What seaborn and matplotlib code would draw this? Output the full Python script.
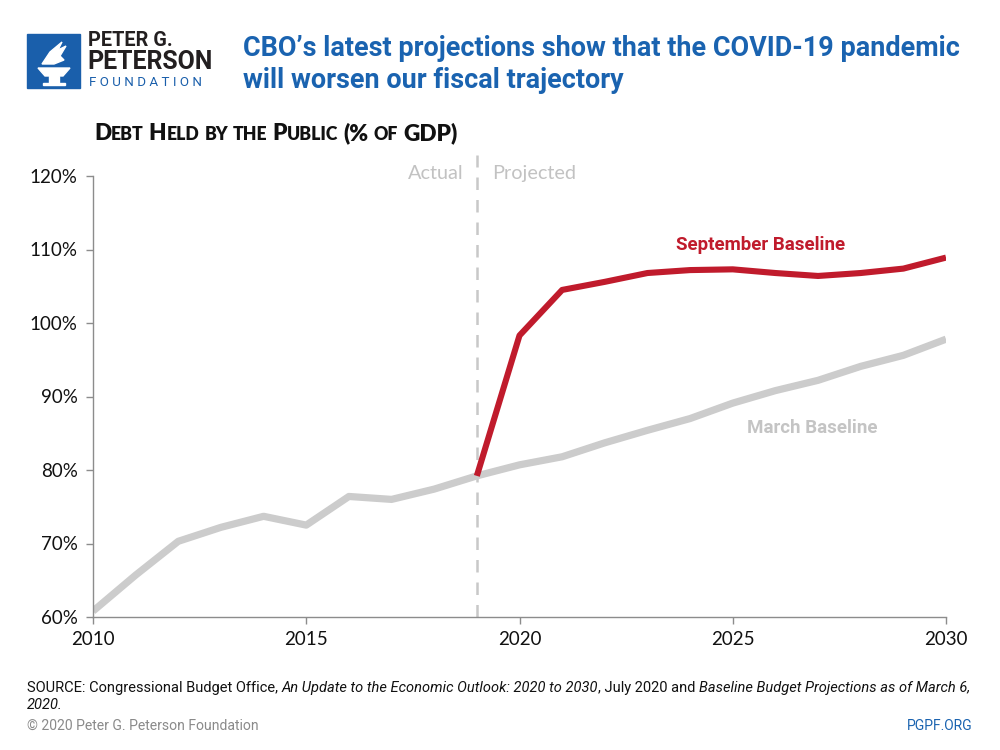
import matplotlib
matplotlib.use("Agg")
import matplotlib.pyplot as plt
import seaborn as sns
import pandas as pd
import numpy as np
from matplotlib.patches import Rectangle, Polygon

# ---------------- data ----------------
years = list(range(2010, 2031))
march_baseline = [60.8, 65.7, 70.3, 72.2, 73.7, 72.5, 76.4, 76.0, 77.4, 79.2,
                  80.7, 81.8, 83.7, 85.4, 87.0, 89.1, 90.8, 92.2, 94.1, 95.6, 97.8]
sept_years = list(range(2019, 2031))
september_baseline = [79.2, 98.3, 104.5, 105.6, 106.8, 107.2, 107.3, 106.8,
                      106.4, 106.8, 107.4, 108.9]
y_ticks = [60, 70, 80, 90, 100, 110, 120]
y_tick_labels = ["60%", "70%", "80%", "90%", "100%", "110%", "120%"]
x_ticks = [2010, 2015, 2020, 2025, 2030]
x_tick_labels = ["2010", "2015", "2020", "2025", "2030"]
divider_year = 2019

RED = "#c01b2c"
GRAY_LINE = "#cccccc"
LABEL_GRAY = "#c2c2c2"
BLUE = "#1a63b0"

sns.set_style("white")
plt.rcParams["font.family"] = ["Lato", "DejaVu Sans"]

fig = plt.figure(figsize=(10, 7.5), dpi=100)
W, H = 1000, 750
ax = fig.add_axes([93 / W, 1 - 617 / H, (946 - 93) / W, (617 - 155) / H])

df_m = pd.DataFrame({"year": years, "value": march_baseline})
df_s = pd.DataFrame({"year": sept_years, "value": september_baseline})

ax.axvline(divider_year, color="#c8c8c8", lw=1.8, dashes=(5, 4), zorder=1)
sns.lineplot(data=df_m, x="year", y="value", ax=ax, color=GRAY_LINE, lw=5.2,
             zorder=2, solid_capstyle="butt")
sns.lineplot(data=df_s, x="year", y="value", ax=ax, color=RED, lw=4.4,
             zorder=3, solid_capstyle="butt")

ax.set_xlim(2010, 2030)
ax.set_ylim(60, 60 + (617 - 155) / 7.35)
ax.set_xticks(x_ticks)
ax.set_xticklabels(x_tick_labels)
ax.set_yticks(y_ticks)
ax.set_yticklabels(y_tick_labels)
ax.set_xlabel("")
ax.set_ylabel("")
for s in ["top", "right"]:
    ax.spines[s].set_visible(False)
for s in ["left", "bottom"]:
    ax.spines[s].set_color("#8c8c8c")
    ax.spines[s].set_linewidth(1.0)
ax.spines["left"].set_bounds(60, 120)
ax.tick_params(axis="both", which="both", direction="out", length=5, width=1,
               color="#8c8c8c", labelsize=13.5, labelcolor="#111111", pad=6,
               left=True, bottom=True)
ax.tick_params(axis="x", pad=5)

# annotations inside plot
ax.text(divider_year - 0.3, 120.4, "Actual", ha="right", va="center",
        fontsize=14.3, color=LABEL_GRAY)
ax.text(divider_year + 0.35, 120.4, "Projected", ha="left", va="center",
        fontsize=14.3, color=LABEL_GRAY)
ax.text(2025.66, 110.6, "September Baseline", ha="center", va="center",
        fontsize=13.5, color=RED, fontweight="bold", family=["Roboto", "DejaVu Sans"])
ax.text(2026.86, 85.7, "March Baseline", ha="center", va="center",
        fontsize=13.5, color="#c4c4c4", fontweight="bold", family=["Roboto", "DejaVu Sans"])

# ---------------- header ----------------
# logo
fig.patches.append(Rectangle((27 / W, 1 - 88 / H), 53 / W, 54 / H,
                             transform=fig.transFigure, color="#1a5fab", zorder=1))
cup = [(38, 68), (70, 68), (63, 76), (45, 76)]
fig.patches.append(Polygon([(x / W, 1 - y / H) for x, y in cup], closed=True,
                           transform=fig.transFigure, color="white", zorder=2))
fig.patches.append(Rectangle((49 / W, 1 - 83 / H), 10 / W, 7 / H,
                             transform=fig.transFigure, color="white", zorder=2))
fig.patches.append(Rectangle((43 / W, 1 - 85 / H), 22 / W, 2 / H,
                             transform=fig.transFigure, color="white", zorder=2))
flame = [(42, 64), (50, 52), (62, 42), (58, 50), (66, 46), (60, 56), (64, 60), (54, 64)]
fig.patches.append(Polygon([(x / W, 1 - y / H) for x, y in flame], closed=True,
                           transform=fig.transFigure, color="white", zorder=2))

fig.text(88 / W, 1 - 41 / H, "PETER G.", fontsize=14.3, fontweight="bold",
         color="#231f20", va="center", ha="left", family=["Roboto", "DejaVu Sans"])
fig.text(87 / W, 1 - 62 / H, "PETERSON", fontsize=17.9, fontweight="bold",
         color="#231f20", va="center", ha="left", family=["Roboto", "DejaVu Sans"])
fig.text(89 / W, 1 - 83 / H, "F O U N D A T I O N", fontsize=9.6,
         color="#1a5fab", va="center", ha="left", family=["Roboto", "DejaVu Sans"])

fig.text(243 / W, 1 - 48 / H, "CBO’s latest projections show that the COVID-19 pandemic",
         fontsize=19.45, fontweight="bold", color=BLUE, va="center", ha="left",
         family=["Roboto", "DejaVu Sans"])
fig.text(243 / W, 1 - 80 / H, "will worsen our fiscal trajectory",
         fontsize=19.45, fontweight="bold", color=BLUE, va="center", ha="left",
         family=["Roboto", "DejaVu Sans"])

fig.canvas.draw()
renderer = fig.canvas.get_renderer()

# small caps subtitle
big = {"fontsize": 16.3}
small = {"fontsize": 12.7}
sp = 5 / W
base = {"color": "#111111", "fontweight": "heavy", "family": ["Lato", "DejaVu Sans"]}
parts = [("D", big), ("EBT", small), (None, None), ("H", big), ("ELD", small),
         (None, None), ("BY", small), (None, None), ("THE", small), (None, None),
         ("P", big), ("UBLIC", small), (None, None), ("(%", big), (None, None),
         ("OF", small), (None, None), ("GDP)", big)]
x = 94 / W
for text, kw in parts:
    if text is None:
        x += sp
        continue
    k = dict(base)
    k.update(kw)
    t = fig.text(x, 1 - 140 / H, text, ha="left", va="baseline", **k)
    x += t.get_window_extent(renderer).width / fig.bbox.width

# ---------------- footer ----------------
foot = {"fontsize": 10.5, "color": "#111111", "family": ["Roboto", "DejaVu Sans"]}
it = {"style": "italic"}
segs = [("SOURCE: Congressional Budget Office, ", {}),
        ("An Update to the Economic Outlook: 2020 to 2030", it),
        (", July 2020 and ", {}),
        ("Baseline Budget Projections as of March 6,", it)]
x = 27 / W
for text, kw in segs:
    k = dict(foot)
    k.update(kw)
    t = fig.text(x, 1 - 692 / H, text, ha="left", va="baseline", **k)
    x += t.get_window_extent(renderer).width / fig.bbox.width
fig.text(27 / W, 1 - 709 / H, "2020.", ha="left", va="baseline", **foot, style="italic")
fig.text(27 / W, 1 - 730 / H, "© 2020 Peter G. Peterson Foundation", ha="left",
         va="baseline", fontsize=10.1, color="#8a8a8a", family=["Roboto", "DejaVu Sans"])
fig.text(973 / W, 1 - 730 / H, "PGPF.ORG", ha="right", va="baseline",
         fontsize=10, color="#1a63b0", family=["Roboto", "DejaVu Sans"])

fig.savefig("out.png", dpi=100)
